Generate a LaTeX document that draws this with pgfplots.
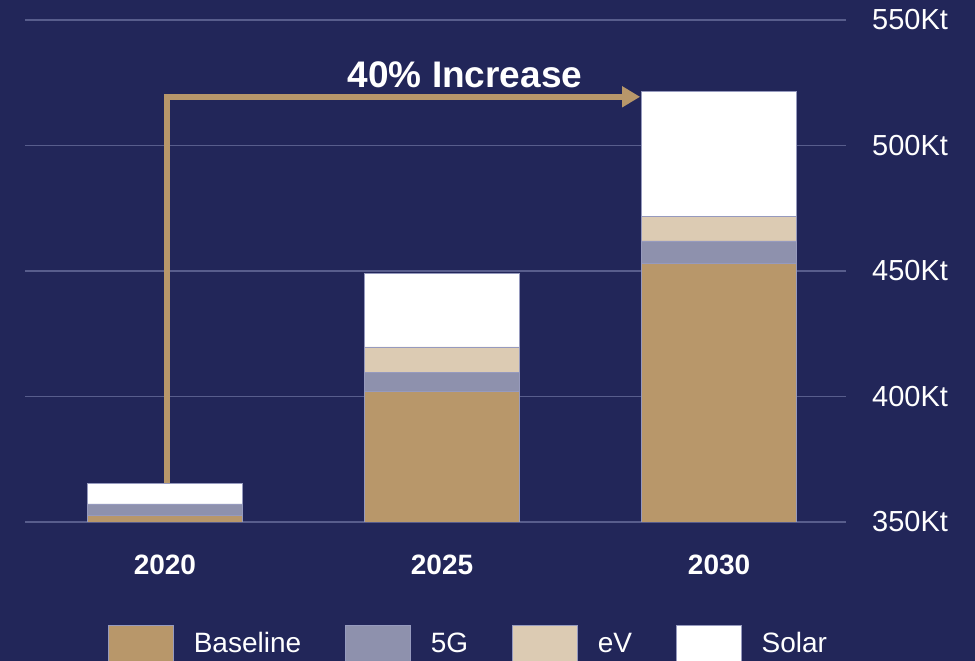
\documentclass[border=0pt]{standalone}
\usepackage{pgfplots}
\pgfplotsset{compat=1.18}
\usepackage{fontspec}
\setmainfont{Liberation Sans}
\usetikzlibrary{arrows.meta}
\definecolor{bgc}{RGB}{34,38,89}
\definecolor{basec}{RGB}{184,151,106}
\definecolor{fivegc}{RGB}{142,145,173}
\definecolor{evc}{RGB}{220,203,179}
\definecolor{gridc}{RGB}{88,93,140}
\definecolor{edgec}{RGB}{150,154,190}
\begin{document}
\begin{tikzpicture}
\fill[bgc] (0,0) rectangle (975bp,661bp);
\begin{axis}[
  at={(25bp,139bp)}, anchor=south west,
  scale only axis, width=821bp, height=502bp,
  xmin=-0.505, xmax=2.458, ymin=350, ymax=550,
  ybar stacked, bar width=155bp, bar shift=0pt,
  axis line style={draw=none},
  xtick={0,1,2}, xticklabels={2020,2025,2030},
  ytick={350,400,450,500,550}, yticklabels={350Kt,400Kt,450Kt,500Kt,550Kt},
  yticklabel pos=right,
  major tick length=0pt,
  ymajorgrids, grid style={gridc, line width=1.3bp},
  xticklabel style={font=\fontsize{28bp}{30bp}\selectfont\bfseries, text=white, anchor=north, inner sep=0pt, yshift=-33bp},
  yticklabel style={font=\fontsize{29bp}{32bp}\selectfont, text=white, anchor=west, inner sep=0pt, xshift=26bp},
  legend image code/.code={\draw[#1] (0bp,-20bp) rectangle (65bp,27bp);},
  legend columns=4, legend cell align=left,
  legend style={at={(axis description cs:0.1011,-0.2051)}, anchor=north west,
    draw=none, fill=none, inner sep=0pt, text=white,
    font=\fontsize{28bp}{32bp}\selectfont,
    nodes={anchor=base west, inner sep=0pt},
    /tikz/every odd column/.style={column sep=20bp},
    /tikz/every even column/.style={column sep=44bp}},
]
\addplot[fill=basec, draw=edgec, line width=0.6bp] coordinates {(0,352.7) (1,402.0) (2,452.9)};
\addplot[fill=fivegc, draw=edgec, line width=0.6bp] coordinates {(0,4.5) (1,7.7) (2,9.1)};
\addplot[fill=evc, draw=edgec, line width=0.6bp] coordinates {(0,0) (1,10.1) (2,9.7)};
\addplot[fill=white, draw=edgec, line width=0.6bp] coordinates {(0,8.3) (1,29.4) (2,49.7)};
\legend{Baseline,5G,eV,Solar}
\draw[basec, line width=5.5bp, line join=miter, -{Triangle[length=18bp,width=20bp]}] (axis cs:0.007,365.5) |- (axis cs:1.715,519.4);
\node[anchor=base, text=white, font=\fontsize{37bp}{40bp}\selectfont\bfseries, inner sep=0pt] at (axis cs:1.083,523.3) {40\% Increase};
\end{axis}
\pgfresetboundingbox
\useasboundingbox (0,0) rectangle (975bp,661bp);
\end{tikzpicture}
\end{document}
